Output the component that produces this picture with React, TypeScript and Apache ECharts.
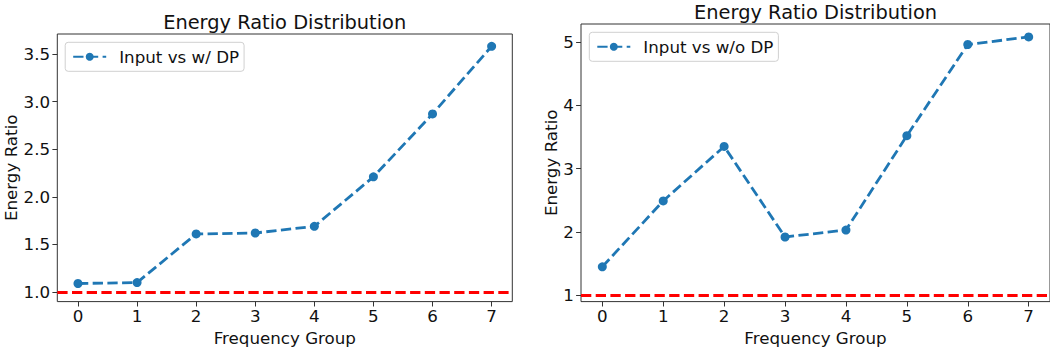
import React, { useEffect, useRef } from 'react';
import * as echarts from 'echarts';

const frequencyGroups = [0, 1, 2, 3, 4, 5, 6, 7];
const ratioWithDP = [1.09, 1.1, 1.61, 1.62, 1.69, 2.21, 2.87, 3.58];
const ratioWithoutDP = [1.45, 2.49, 3.35, 1.92, 2.03, 3.52, 4.96, 5.08];
const leftYTicks = [1.0, 1.5, 2.0, 2.5, 3.0, 3.5];
const rightYTicks = [1, 2, 3, 4, 5];
const referenceLevel = 1;
const titles = ['Energy Ratio Distribution', 'Energy Ratio Distribution'];
const seriesNames = ['Input vs w/ DP', 'Input vs w/o DP'];

const FONT = 'DejaVu Sans';
const TXT = '#111';
const BLUE = '#1f77b4';
const DASH = [10.3, 4.4];

function makeX(gridIndex: number) {
  return {
    type: 'value',
    gridIndex,
    min: -0.35,
    max: 7.35,
    name: 'Frequency Group',
    nameLocation: 'middle',
    nameGap: 25,
    nameTextStyle: { fontFamily: FONT, fontSize: 16.7, color: TXT },
    axisLine: { show: false, onZero: false },
    splitLine: { show: false },
    axisTick: { show: true, inside: false, length: 4.9, customValues: frequencyGroups, lineStyle: { color: '#333', width: 1 } },
    axisLabel: {
      customValues: frequencyGroups,
      margin: 5.5,
      fontFamily: FONT,
      fontSize: 16.7,
      color: TXT,
      formatter: (v: number) => String(Math.round(v)),
    },
  };
}

function makeY(gridIndex: number, min: number, max: number, ticks: number[], digits: number, nameGap: number) {
  return {
    type: 'value',
    gridIndex,
    min,
    max,
    name: 'Energy Ratio',
    nameLocation: 'middle',
    nameGap,
    nameTextStyle: { fontFamily: FONT, fontSize: 16.7, color: TXT },
    axisLine: { show: false, onZero: false },
    splitLine: { show: false },
    axisTick: { show: true, inside: false, length: 4.9, customValues: ticks, lineStyle: { color: '#333', width: 1 } },
    axisLabel: {
      customValues: ticks,
      margin: 7.2,
      fontFamily: FONT,
      fontSize: 16.7,
      color: TXT,
      formatter: (v: number) => v.toFixed(digits),
    },
  };
}

function makeSeries(name: string, values: number[], idx: number) {
  return {
    type: 'line',
    name,
    xAxisIndex: idx,
    yAxisIndex: idx,
    data: frequencyGroups.map((g, i) => [g, values[i]]),
    symbol: 'circle',
    symbolSize: 9,
    itemStyle: { color: BLUE },
    lineStyle: { color: BLUE, width: 2.8, type: DASH },
    markLine: {
      silent: true,
      symbol: ['none', 'none'],
      label: { show: false },
      lineStyle: { color: '#ff0000', width: 2.8, type: DASH },
      data: [{ yAxis: referenceLevel }],
    },
  };
}

export default function App() {
  const ref = useRef<HTMLDivElement>(null);
  useEffect(() => {
    const chart = echarts.init(ref.current!, null, { renderer: 'svg' });
    const legendCommon = {
      orient: 'horizontal',
      itemWidth: 33,
      itemHeight: 10,
      padding: [5, 5, 5, 7],
      borderColor: '#d0d0d0',
      borderWidth: 1,
      borderRadius: 3,
      backgroundColor: 'rgba(255,255,255,0.8)',
      textStyle: { fontFamily: FONT, fontSize: 16.7, color: TXT, lineHeight: 19, padding: [0, 0, 0, 8] },
    };
    chart.setOption({
      animation: false,
      backgroundColor: '#fff',
      title: [
        {
          text: titles[0], left: 284.7, top: 12, textAlign: 'center', padding: 0,
          textStyle: { fontFamily: FONT, fontSize: 19.4, fontWeight: 'normal', color: TXT, lineHeight: 20 },
        },
        {
          text: titles[1], left: 815.6, top: 2, textAlign: 'center', padding: 0,
          textStyle: { fontFamily: FONT, fontSize: 19.4, fontWeight: 'normal', color: TXT, lineHeight: 20 },
        },
      ],
      legend: [
        { ...legendCommon, data: [seriesNames[0]], left: 65.2, top: 42.3 },
        { ...legendCommon, data: [seriesNames[1]], left: 589.3, top: 32.3 },
      ],
      grid: [
        { left: 57.3, top: 34, width: 455, height: 270.7, show: true, borderColor: '#333', borderWidth: 1, backgroundColor: 'transparent', containLabel: false },
        { left: 581, top: 24, width: 469.7, height: 279.7, show: true, borderColor: '#333', borderWidth: 1, backgroundColor: 'transparent', containLabel: false },
      ],
      xAxis: [makeX(0), makeX(1)],
      yAxis: [
        makeY(0, 0.9, 3.709, leftYTicks, 1, 36),
        makeY(1, 0.9, 5.284, rightYTicks, 0, 22),
      ],
      series: [
        makeSeries(seriesNames[0], ratioWithDP, 0),
        makeSeries(seriesNames[1], ratioWithoutDP, 1),
      ],
    });
    return () => chart.dispose();
  }, []);
  return (
    <div
      ref={ref}
      style={{ position: 'fixed', left: 0, top: 0, width: 1050, height: 351, background: '#fff' }}
    />
  );
}
